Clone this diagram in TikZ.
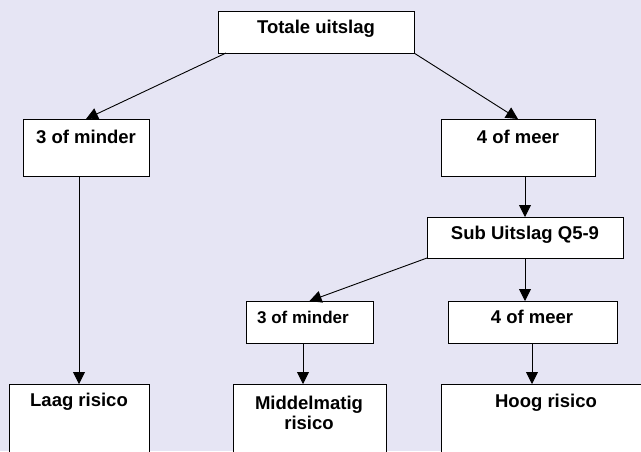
\documentclass[tikz,border=0pt]{standalone}
\usepackage{fontspec}
\setmainfont{Liberation Sans}
\usetikzlibrary{arrows.meta,calc}
\definecolor{bg}{RGB}{230,229,244}
\tikzset{
  box/.style={draw=black, line width=1pt, fill=white, rectangle, inner sep=0pt, outer sep=0pt},
  lbl/.style={inner sep=0pt, font=\bfseries\fontsize{18.5}{20}\selectfont, align=center},
  slbl/.style={inner sep=0pt, font=\bfseries\fontsize{17}{20}\selectfont, align=center},
  conn/.style={draw=black, line width=0.9pt, -{Triangle[width=12pt,length=12pt]}}
}
\begin{document}
\begin{tikzpicture}[x=1pt,y=-1pt]
\useasboundingbox (0,0) rectangle (641,451);
\clip (0,0) rectangle (641,451);
\fill[bg] (0,0) rectangle (641,451);
% boxes
\node[box, minimum width=196pt, minimum height=42pt] (top) at (316,32) {};
\node[box, minimum width=126pt, minimum height=57pt] (lmin) at (86,147.5) {};
\node[box, minimum width=154pt, minimum height=57pt] (rmeer) at (518,147.5) {};
\node[box, minimum width=196pt, minimum height=41pt] (sub) at (525,237.5) {};
\node[box, minimum width=127pt, minimum height=42pt] (smin) at (309.5,322) {};
\node[box, minimum width=169pt, minimum height=42pt] (smeer) at (532.5,322) {};
\node[box, minimum width=140pt, minimum height=90pt] (laag) at (79,429) {};
\node[box, minimum width=153pt, minimum height=90pt] (midd) at (309.5,429) {};
\node[box, minimum width=220pt, minimum height=90pt] (hoog) at (551,429) {};
% labels
\node[lbl] (topT) at (316,29) {Totale uitslag};
\node[lbl] (lminT) at (86,137) {3 of minder};
\node[lbl] (rmeerT) at (518,137) {4 of meer};
\node[lbl] (subT) at (525,235) {Sub Uitslag Q5-9};
\node[slbl] (sminT) at (303,317) {3 of minder};
\node[lbl] (smeerT) at (532,317) {4 of meer};
\node[lbl] (laagT) at (79,402) {Laag risico};
\node[lbl] (middT) at (309,413) {Middelmatig\\risico};
\node[lbl] (hoogT) at (546,403) {Hoog risico};
% connectors
\coordinate (topL) at ($(top.south west)+(8,0)$);
\draw[conn] (topL) -- (lmin.north);
\draw[conn] (top.south east) -- (rmeer.north);
\draw[conn] (lmin.south -| laagT) -- (laag.north -| laagT);
\draw[conn] (rmeer.south -| subT) -- (sub.north -| subT);
\draw[conn] (sub.south west) -- (smin.north);
\draw[conn] (sub.south -| subT) -- (smeer.north -| subT);
\draw[conn] (smin.south -| sminT) -- (midd.north -| sminT);
\draw[conn] (smeer.south -| smeerT) -- (hoog.north -| smeerT);
\end{tikzpicture}
\end{document}
